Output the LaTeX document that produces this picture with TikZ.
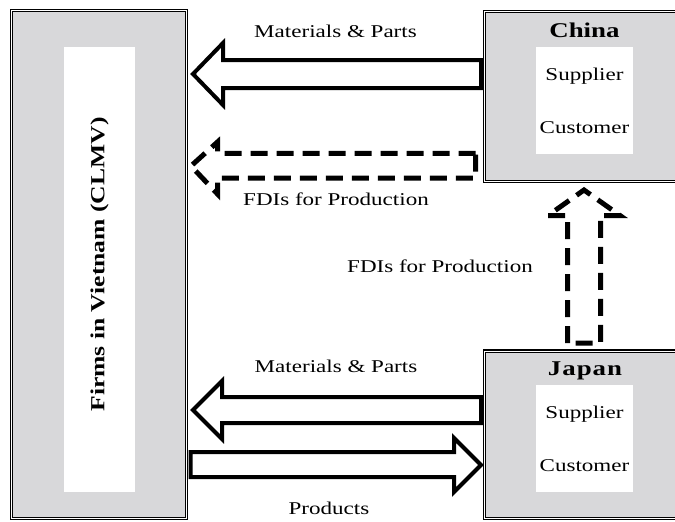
\documentclass[tikz,border=0pt]{standalone}
\usepackage{fontspec}
\setmainfont{Liberation Serif}[FakeStretch=1.28]
\definecolor{panelgray}{RGB}{216,216,218}
\tikzset{
  panel/.style={draw=black, line width=1.1pt, double=white, double distance=1pt,
    fill=panelgray, inner sep=0pt},
  card/.style={fill=white, inner sep=0pt},
  blockarrow/.style={draw=black, line width=4pt, fill=white, line join=miter, miter limit=10},
  dasharrow/.style={draw=black, line width=5pt, dash pattern=on 17pt off 9pt,
    line join=miter, miter limit=10},
  lbl/.style={font=\fontsize{18}{20}\selectfont, inner sep=0pt, anchor=base},
  boxtitle/.style={font=\fontsize{21}{24}\selectfont\bfseries, inner sep=0pt, anchor=base},
}
\begin{document}
\begin{tikzpicture}[x=1pt, y=-1pt]
  \useasboundingbox (0,0) rectangle (675,522);
  \clip (0,0) rectangle (675,522);

  % Panels
  \node[panel, minimum width=174.8pt, minimum height=507.8pt] (vn) at (99,264.5) {};
  \node[card, minimum width=71pt, minimum height=445pt] (vncard) at (99.5,269.5) {};
  \node[rotate=90, font=\fontsize{20}{22}\selectfont\bfseries, inner sep=0pt]
    (vnlabel) at (99.5,264.5) {Firms in Vietnam (CLMV)};

  \node[panel, minimum width=215pt, minimum height=169.8pt] (china) at (592.1,96.5) {};
  \node[card, minimum width=97pt, minimum height=107pt] (chinacard) at (584.5,100.5) {};
  \node[boxtitle] (chinatitle) at (584.5,37) {China};
  \node[lbl] (chinasup) at (584.5,80) {Supplier};
  \node[lbl] (chinacus) at (584.5,133.3) {Customer};

  \node[panel, minimum width=215pt, minimum height=167.4pt] (japan) at (592.1,434.7) {};
  \node[card, minimum width=97pt, minimum height=107pt] (japancard) at (584.5,438.5) {};
  \node[boxtitle] (japantitle) at (585,375) {J\kern1pt a\kern1pt p\kern1pt a\kern1pt n};
  \node[lbl] (japansup) at (584.5,418) {Supplier};
  \node[lbl] (japancus) at (584.5,471.7) {Customer};

  % Materials & Parts from China
  \draw[blockarrow] (193,74) -- (223,43) -- (223,60) -- (481,60) -- (481,88)
    -- (223,88) -- (223,105) -- cycle;
  \node[lbl] (mp1) at (335.5,37) {Materials \& Parts};

  % FDIs from China
  \draw[dasharrow] (475.5,153.3) -- (217.5,153.3) -- (217.5,142) -- (191,166)
    -- (217.5,194) -- (217.5,178) -- (475.5,178) -- cycle;
  \node[lbl] (fdi1) at (336,205) {FDIs for Production};

  % FDIs from Japan to China
  \draw[dasharrow] (567.5,343) -- (567.5,215.5) -- (548,215.5) -- (584,190)
    -- (620,215.5) -- (600.5,215.5) -- (600.5,343) -- cycle;
  \node[lbl] (fdi2) at (440,272.7) {FDIs for Production};

  % Materials & Parts from Japan
  \draw[blockarrow] (193,410) -- (222,381) -- (222,397) -- (481,397) -- (481,423)
    -- (222,423) -- (222,439) -- cycle;
  \node[lbl] (mp2) at (336,372.5) {Materials \& Parts};

  % Products to Japan
  \draw[blockarrow] (190.5,452) -- (454,452) -- (454,438) -- (481,465)
    -- (454,492) -- (454,477) -- (190.5,477) -- cycle;
  \node[lbl] (prod) at (329,514) {Products};
\end{tikzpicture}
\end{document}
